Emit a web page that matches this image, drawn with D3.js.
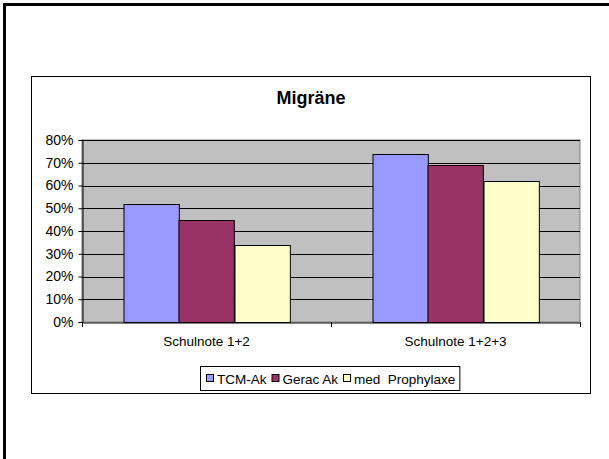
<!DOCTYPE html>
<html lang="de">
<head>
  <meta charset="UTF-8">
  <title>Migräne</title>
  <script src="https://d3js.org/d3.v7.min.js"></script>
  <style>
    body { margin: 0; background: #fff; }
    svg { display: block; }
    svg text { font-family: "Liberation Sans", Arial, sans-serif; }
  </style>
</head>
<body>
<svg id="chart" width="609" height="459"></svg>
<script>
  // data
  const categories = ["Schulnote 1+2", "Schulnote 1+2+3"];
  const seriesNames = ["TCM-Ak", "Gerac Ak", "med  Prophylaxe"];
  const tcmAk = [0.52, 0.74];
  const geracAk = [0.45, 0.69];
  const medProphylaxe = [0.34, 0.62];
  const yTicks = [0, 0.1, 0.2, 0.3, 0.4, 0.5, 0.6, 0.7, 0.8];

  const COLORS = ["#9999FF", "#993366", "#FFFFCC"];
  const seriesValues = [tcmAk, geracAk, medProphylaxe];
  const FONT = "Liberation Sans, Arial, sans-serif";

  const svg = d3.select("#chart");

  // outer frame (slide border, runs off the page on right/bottom)
  svg.append("rect")
    .attr("x", 4.5).attr("y", 4.5)
    .attr("width", 700).attr("height", 700)
    .attr("fill", "none")
    .attr("stroke", "#000")
    .attr("stroke-width", 3);

  // chart box
  svg.append("rect")
    .attr("x", 31.5).attr("y", 76.5)
    .attr("width", 559).attr("height", 317)
    .attr("fill", "#fff")
    .attr("stroke", "#000")
    .attr("stroke-width", 1);

  svg.append("text")
    .attr("x", 311).attr("y", 104)
    .attr("text-anchor", "middle")
    .attr("font-size", "18px")
    .attr("font-weight", "bold")
    .text("Migräne");

  const plot = { left: 82, right: 580, top: 140, bottom: 322 };

  const x0 = d3.scaleBand()
    .domain(categories)
    .range([plot.left, plot.right])
    .paddingInner(1 / 3)
    .paddingOuter(1 / 6);

  const x1 = d3.scaleBand()
    .domain(seriesNames)
    .range([0, x0.bandwidth()]);

  const y = d3.scaleLinear()
    .domain([0, 0.8])
    .range([plot.bottom, plot.top]);

  // plot background
  svg.append("rect")
    .attr("x", plot.left).attr("y", plot.top)
    .attr("width", plot.right - plot.left)
    .attr("height", plot.bottom - plot.top)
    .attr("fill", "#C0C0C0")
    .attr("stroke", "#808080")
    .attr("stroke-width", 1);

  // gridlines
  svg.append("g")
    .selectAll("line")
    .data(yTicks.filter(d => d > 0))
    .join("line")
    .attr("x1", plot.left).attr("x2", plot.right)
    .attr("y1", d => Math.round(y(d)) + 0.5)
    .attr("y2", d => Math.round(y(d)) + 0.5)
    .attr("stroke", "#000")
    .attr("stroke-width", 1);

  // bars
  const rows = categories.map((c, i) => ({
    cat: c,
    vals: seriesNames.map((s, j) => ({ name: s, value: seriesValues[j][i], color: COLORS[j] }))
  }));

  svg.append("g")
    .selectAll("g")
    .data(rows)
    .join("g")
    .attr("transform", d => `translate(${x0(d.cat)},0)`)
    .selectAll("rect")
    .data(d => d.vals)
    .join("rect")
    .attr("x", d => Math.round(x1(d.name)) + 0.5)
    .attr("y", d => Math.round(y(d.value)) + 0.5)
    .attr("width", x1.bandwidth())
    .attr("height", d => plot.bottom - Math.round(y(d.value)))
    .attr("fill", d => d.color)
    .attr("stroke", "#000")
    .attr("stroke-width", 1);

  // y axis
  svg.append("g")
    .attr("transform", `translate(${plot.left + 0.5},0)`)
    .call(d3.axisLeft(y).tickValues(yTicks).tickSize(4).tickPadding(5)
      .tickFormat(d3.format(".0%")))
    .attr("font-family", FONT)
    .attr("font-size", 14)
    .call(g => g.select(".domain").attr("stroke", "#000"))
    .call(g => g.selectAll(".tick line").attr("stroke", "#000"));

  // x axis with ticks between categories
  svg.append("g")
    .attr("transform", `translate(0,${plot.bottom + 0.5})`)
    .call(d3.axisBottom(x0).tickSize(0).tickPadding(14))
    .attr("font-family", FONT)
    .attr("font-size", 13.5)
    .call(g => g.select(".domain").attr("stroke", "#000"));

  svg.append("g")
    .selectAll("line")
    .data([plot.left, x0(categories[1]) - x0.step() * x0.paddingInner() / 2, plot.right])
    .join("line")
    .attr("x1", d => Math.round(d) + 0.5).attr("x2", d => Math.round(d) + 0.5)
    .attr("y1", plot.bottom).attr("y2", plot.bottom + 5)
    .attr("stroke", "#000");

  // legend
  const legend = svg.append("g")
    .attr("font-family", FONT)
    .attr("font-size", "13.5px");
  let lx = 0;
  seriesNames.forEach((name, i) => {
    legend.append("rect")
      .attr("x", lx + 0.5).attr("y", -9.5)
      .attr("width", 7).attr("height", 7)
      .attr("fill", COLORS[i])
      .attr("stroke", "#000");
    const t = legend.append("text")
      .attr("x", lx + 11).attr("y", 0)
      .attr("xml:space", "preserve")
      .style("white-space", "pre")
      .text(name);
    lx += 11 + t.node().getComputedTextLength() + 5;
  });
  const lw = lx - 5;
  const legendX = Math.round(331 - lw / 2);
  legend.attr("transform", `translate(${legendX},384)`);
  svg.insert("rect", () => legend.node())
    .attr("x", legendX - 5.5).attr("y", 366.5)
    .attr("width", lw + 10).attr("height", 24)
    .attr("fill", "#fff")
    .attr("stroke", "#000");
</script>
</body>
</html>
